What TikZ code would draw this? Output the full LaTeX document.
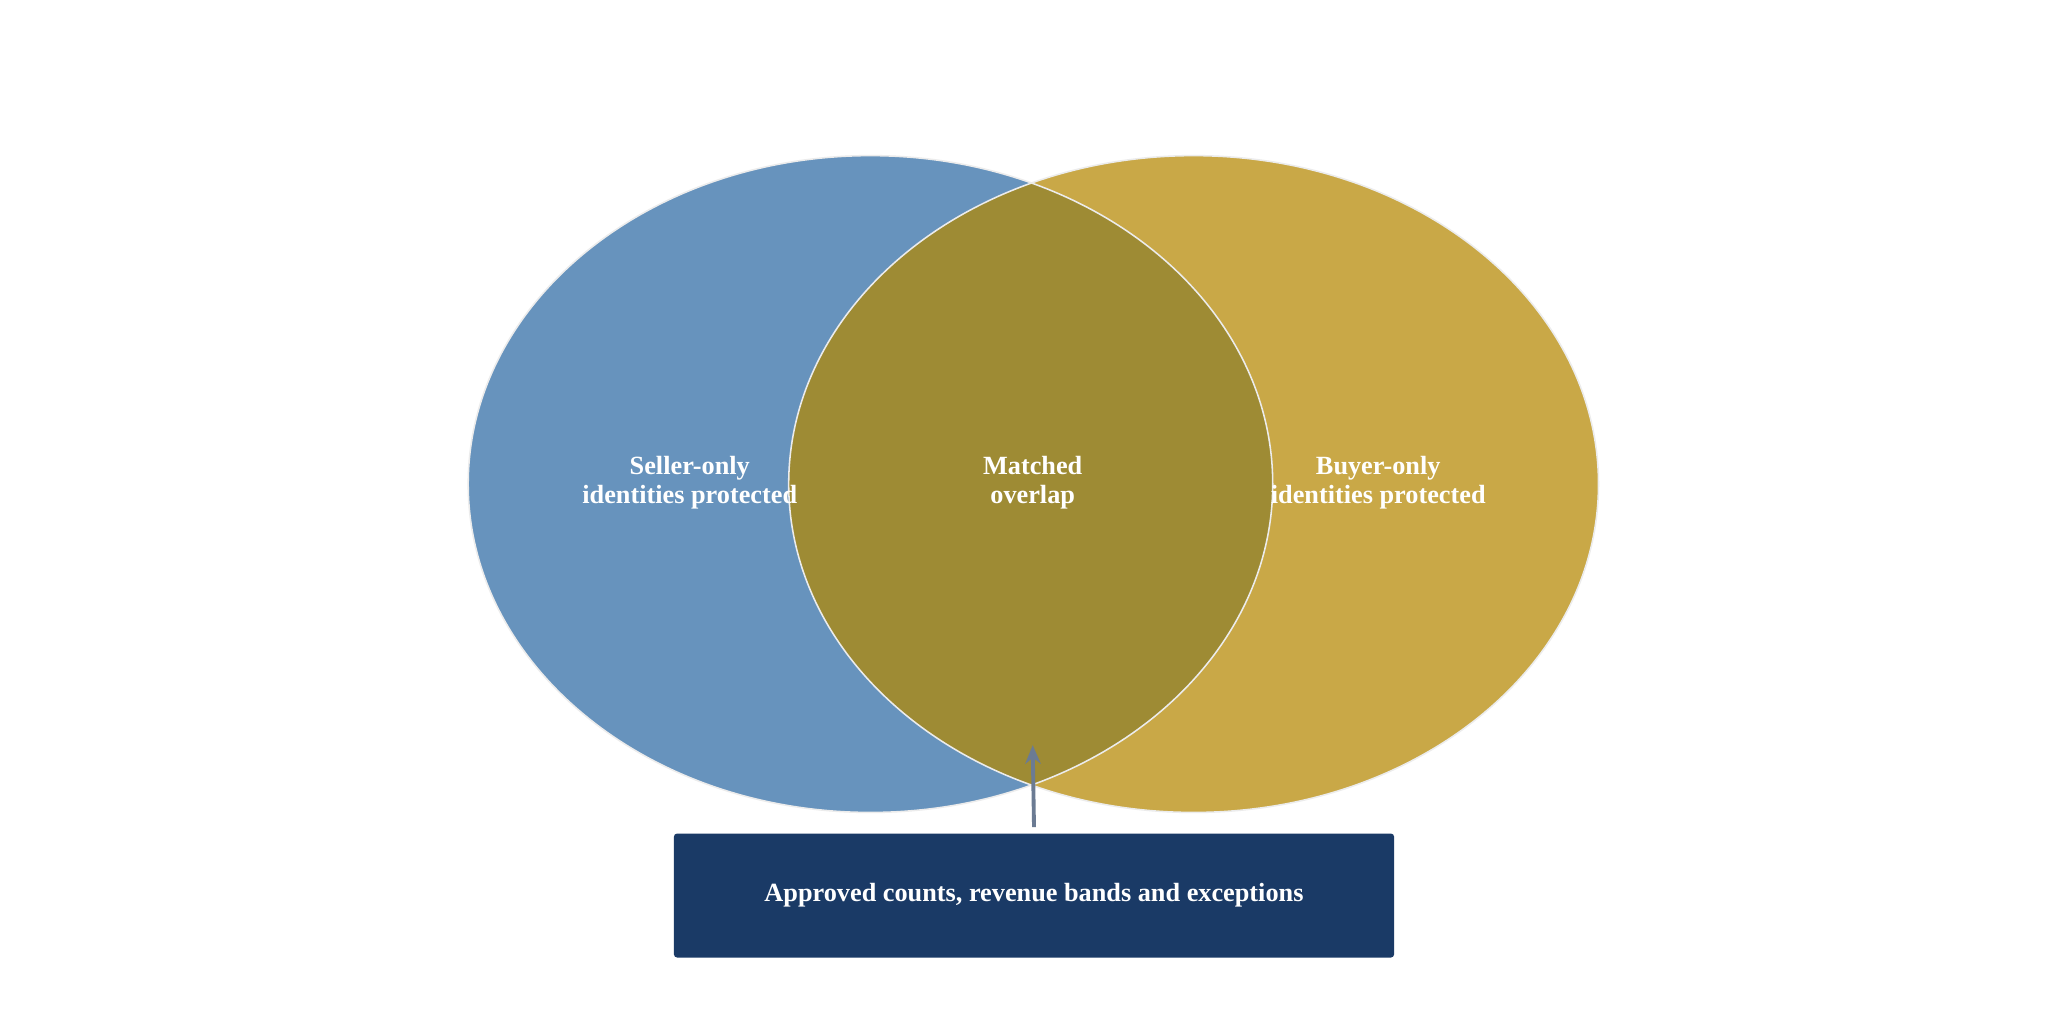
\documentclass[tikz,border=0pt]{standalone}
\usepackage{fontspec}
\setmainfont{Liberation Serif}
\usetikzlibrary{arrows.meta}
\definecolor{cblue}{HTML}{6793BD}
\definecolor{cgold}{HTML}{C9A847}
\definecolor{colive}{HTML}{9E8B34}
\definecolor{cbox}{HTML}{1A3A66}
\definecolor{carrow}{HTML}{6B7B93}
\tikzset{lbl/.style={text=white,font=\bfseries\fontsize{17}{19}\selectfont,align=center}}
\begin{document}
\begin{tikzpicture}[x=0.03cm,y=-0.03cm]
\useasboundingbox[fill=white] (0,0) rectangle (1568,784);
\fill[cblue] (660,367) ellipse [x radius=305,y radius=249];
\fill[cgold] (905,367) ellipse [x radius=307,y radius=249];
\begin{scope}
\clip (660,367) ellipse [x radius=305,y radius=249];
\fill[colive] (905,367) ellipse [x radius=307,y radius=249];
\end{scope}
\draw[white!85!gray,line width=1pt] (660,367) ellipse [x radius=305,y radius=249];
\draw[white!85!gray,line width=1pt] (905,367) ellipse [x radius=307,y radius=249];
\node[lbl] (s) at (523,366) {Seller-only\\identities protected};
\node[lbl] (m) at (783,366) {Matched\\overlap};
\node[lbl] (b) at (1045,366) {Buyer-only\\identities protected};
\node[fill=cbox,rounded corners=2pt,minimum width=546*0.03cm,minimum height=94*0.03cm,lbl] (box) at (784,679) {Approved counts, revenue bands and exceptions};
\coordinate (tip) at (783,565);
\draw[carrow,line width=2.5pt,-{Stealth[length=12pt,width=10pt]}] ([yshift=4pt]box.north) -- (tip);
\end{tikzpicture}
\end{document}
